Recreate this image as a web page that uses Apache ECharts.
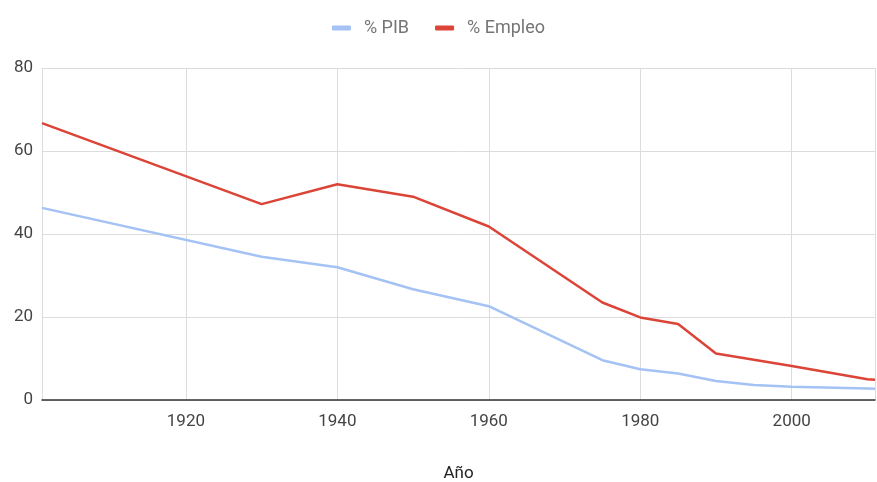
<!DOCTYPE html>
<html lang="es">
<head>
    <meta charset="UTF-8">
    <title>PIB y Empleo</title>
    <script src="https://cdn.jsdelivr.net/npm/echarts@6/dist/echarts.min.js"></script>
    <style>
        *{ padding:0; margin:0; }
        html, body{ width:100%; height:100%; background:#fff; }
        .echarts{ width:877px; height:482px; }
    </style>
</head>
<body>
<div class="echarts"></div>
<script>
    // años y valores
    let years   = [1901, 1930, 1940, 1950, 1960, 1975, 1980, 1985, 1990, 1995, 2000, 2010, 2011];
    let pib     = [46.3, 34.5, 32.0, 26.7, 22.6, 9.6, 7.4, 6.4, 4.6, 3.6, 3.2, 2.8, 2.7];
    let empleo  = [66.7, 47.2, 52.0, 49.0, 41.8, 23.5, 19.9, 18.3, 11.2, 9.7, 8.2, 5.0, 4.9];
    let names   = ['% PIB', '% Empleo'];
    let colors  = ['#a4c2f4', '#db4437'];

    window.onload = function () {
        let myCharts = echarts.init(document.querySelector('.echarts'));
        let series = [pib, empleo].map((vals, i) => ({
            name: names[i],
            type: 'line',
            data: years.map((y, k) => [y, vals[k]]),
            showSymbol: false,
            lineStyle: { width: 2.5, color: colors[i] },
            itemStyle: { color: colors[i] },
            z: i + 2
        }));

        let option = {
            animation: false,
            textStyle: { fontFamily: 'Roboto' },
            legend: {
                top: 14,
                left: 'center',
                data: names,
                icon: 'roundRect',
                itemWidth: 19,
                itemHeight: 5,
                itemGap: 26,
                textStyle: { color: '#757575', fontSize: 18, padding: [0, 0, 0, 8] }
            },
            grid: { left: 42, right: 2, top: 68, bottom: 82, containLabel: false, outerBoundsMode: 'none' },
            xAxis: {
                type: 'value',
                min: 1901,
                max: 2011,
                splitNumber: 5,
                name: 'Año',
                nameLocation: 'middle',
                nameGap: 65,
                nameTextStyle: { color: '#222', fontSize: 17 },
                axisLine: { show: true, lineStyle: { color: '#333', width: 1.5 } },
                axisTick: { show: false },
                axisLabel: {
                    color: '#444', fontSize: 17, margin: 13,
                    showMinLabel: false, showMaxLabel: false,
                    formatter: v => String(v)
                },
                splitLine: { show: true, lineStyle: { color: '#dcdcdc', width: 1 } }
            },
            yAxis: {
                type: 'value',
                min: 0,
                max: 80,
                interval: 20,
                axisLine: { show: false },
                axisTick: { show: false },
                axisLabel: { color: '#444', fontSize: 17, margin: 9 },
                splitLine: { lineStyle: { color: '#dcdcdc', width: 1 } }
            },
            series
        };
        myCharts.setOption(option);
    };
</script>
</body>
</html>
